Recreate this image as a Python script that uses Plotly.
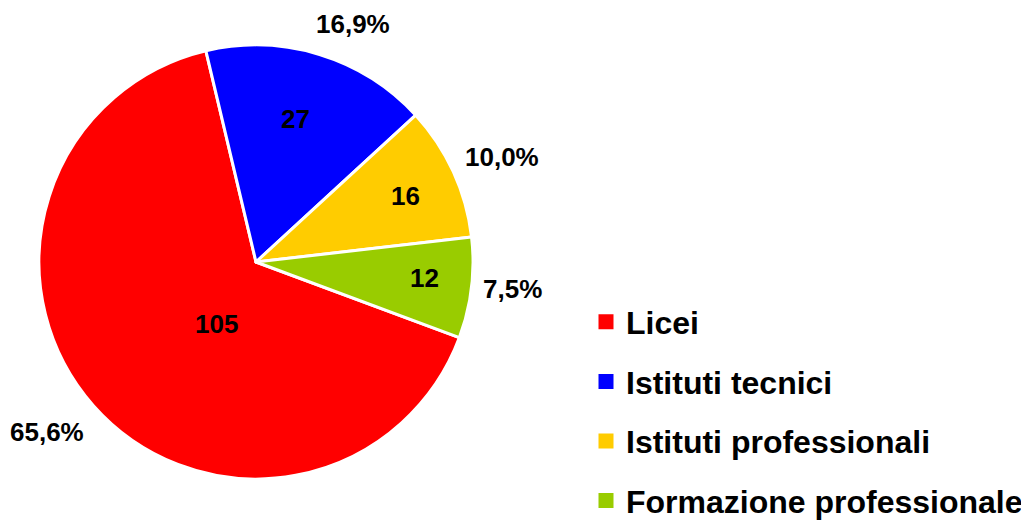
import numpy as np
import plotly.graph_objects as go

# ---- data ----
categories = ["Licei", "Istituti tecnici", "Istituti professionali", "Formazione professionale"]
values = [105, 27, 16, 12]
colors = ["#FF0000", "#0000FF", "#FFCC00", "#99CC00"]

# ---- layout / style constants (screen pixels) ----
WIN_W, WIN_H = 1029, 523
OFF = 8                              # default page body margin
FW, FH = WIN_W - OFF, WIN_H          # figure size (bottom strip falls outside window)
CX, CY, R = 256, 262, 217            # pie centre / radius on screen
START = 110.4                        # first slice start, degrees clockwise from 12 o'clock
FONT = "Liberation Sans, Arial, sans-serif"

# label placement (radial factor of R, angular offset from slice middle in degrees)
VALUE_K = [0.339, 0.686, 0.754, 0.78]
VALUE_DA = [-16.2, -1.5, 0.9, -1.4]
PCT_K = [1.241, 1.184, 1.230, 1.189]
PCT_DA = [2.3, 5.1, 1.5, -1.0]


def px(sx):
    return (sx - OFF) / FW


def py(sy):
    return 1 - (sy - OFF) / FH


dom_x = [px(CX - R), px(CX + R)]
dom_y = [py(CY + R), py(CY - R)]

fig = go.Figure()
fig.add_trace(go.Pie(
    labels=categories, values=values, sort=False,
    direction="clockwise", rotation=START,
    marker=dict(colors=colors, line=dict(color="white", width=3)),
    textinfo="none",
    domain=dict(x=dom_x, y=dom_y), showlegend=False,
))

# legend entries
for lab, col in zip(categories, colors):
    fig.add_trace(go.Scatter(
        x=[None], y=[None], mode="markers", name=lab, legendgroup=lab,
        marker=dict(symbol="square", size=15, color=col), hoverinfo="skip",
    ))

# labels computed from the data
vals = np.array(values, dtype=float)
total = vals.sum()
cum = np.concatenate([[0.0], np.cumsum(vals)[:-1]])
mid_deg = START + (cum + vals / 2) / total * 360.0

annotations = []
lab_font = dict(family=FONT, size=26, color="black", weight="bold")
for i, v in enumerate(values):
    # value inside the slice
    a = np.deg2rad(mid_deg[i] + VALUE_DA[i])
    sx = CX + VALUE_K[i] * R * np.sin(a)
    sy = CY - VALUE_K[i] * R * np.cos(a)
    annotations.append(dict(x=px(sx), y=py(sy), xref="paper", yref="paper",
                            text=str(v), showarrow=False,
                            xanchor="center", yanchor="middle", font=lab_font))
    # percentage outside
    a = np.deg2rad(mid_deg[i] + PCT_DA[i])
    sx = CX + PCT_K[i] * R * np.sin(a)
    sy = CY - PCT_K[i] * R * np.cos(a)
    txt = f"{v / total * 100:.1f}".replace(".", ",") + "%"
    annotations.append(dict(x=px(sx), y=py(sy), xref="paper", yref="paper",
                            text=txt, showarrow=False,
                            xanchor="center", yanchor="middle", font=lab_font))

fig.update_layout(
    width=FW, height=FH,
    margin=dict(l=0, r=0, t=0, b=0, autoexpand=False),
    paper_bgcolor="white", plot_bgcolor="white",
    separators=",.",
    xaxis=dict(visible=False), yaxis=dict(visible=False),
    annotations=annotations,
    legend=dict(
        x=px(586), y=py(294.5), xanchor="left", yanchor="top",
        font=dict(family=FONT, size=32, color="black", weight="bold"),
        tracegroupgap=15, bgcolor="rgba(0,0,0,0)", traceorder="grouped",
    ),
    showlegend=True,
)

fig.write_html("out.html")
